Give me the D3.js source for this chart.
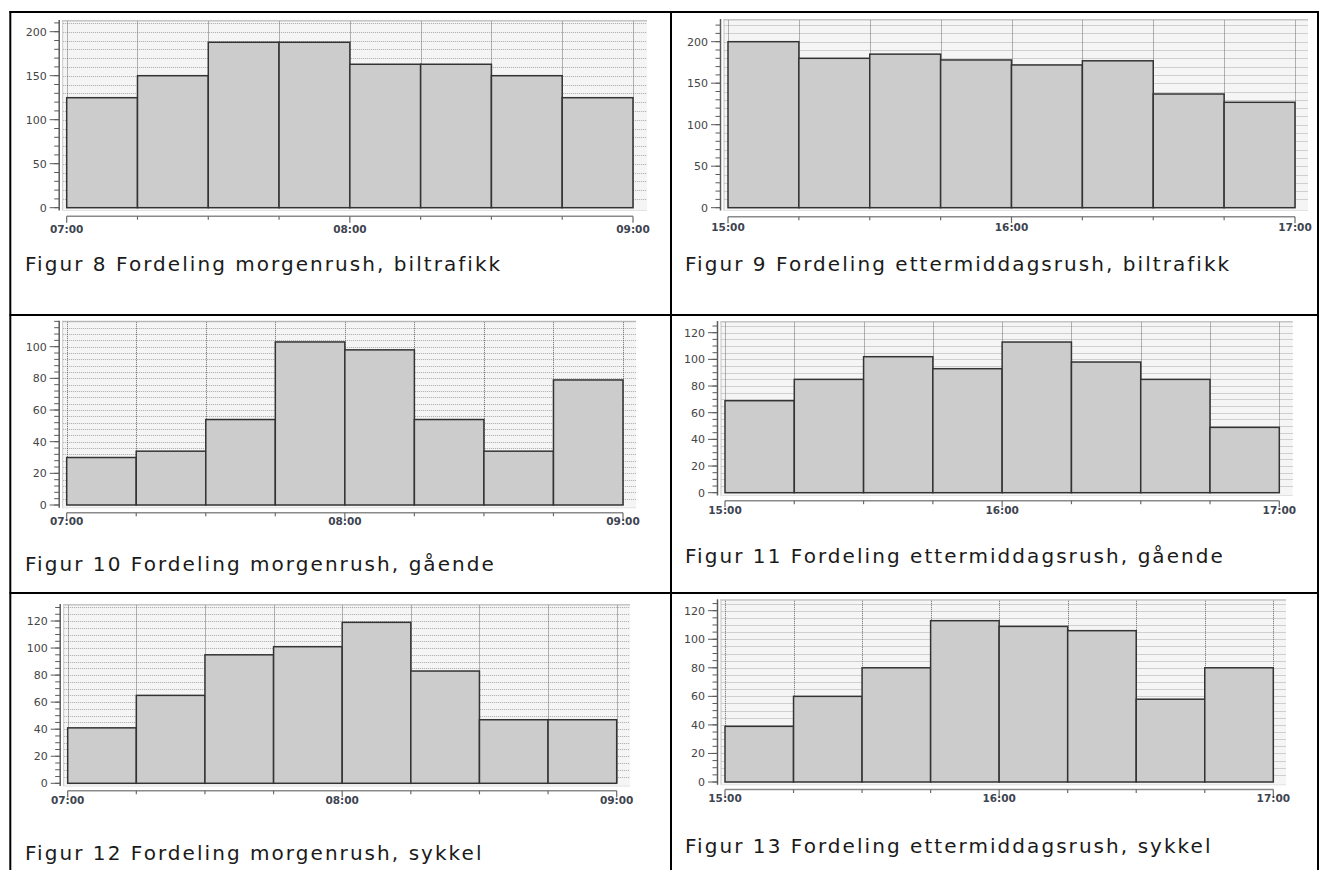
<!DOCTYPE html>
<html><head><meta charset="utf-8">
<script src="https://cdn.jsdelivr.net/npm/d3@7"></script>
<style>
html,body{margin:0;padding:0;background:#fff;}
svg{display:block;}
</style></head>
<body>
<svg id="chart" width="1320" height="870"></svg>
<script>
// ---------- DATA ----------
const morningBins = ["07:00","07:15","07:30","07:45","08:00","08:15","08:30","08:45"];
const afternoonBins = ["15:00","15:15","15:30","15:45","16:00","16:15","16:30","16:45"];
const morningTickLabels = ["07:00","08:00","09:00"];
const afternoonTickLabels = ["15:00","16:00","17:00"];

const fig8Values  = [125,150,188,188,163,163,150,125];
const fig9Values  = [200,180,185,178,172,177,137,127];
const fig10Values = [30,34,54,103,98,54,34,79];
const fig11Values = [69,85,102,93,113,98,85,49];
const fig12Values = [41,65,95,101,119,83,47,47];
const fig13Values = [39,60,80,113,109,106,58,80];

const yTicks200 = [0,50,100,150,200];
const yTicks100 = [0,20,40,60,80,100];
const yTicks120 = [0,20,40,60,80,100,120];

const captions = [
  "Figur 8 Fordeling morgenrush, biltrafikk",
  "Figur 9 Fordeling ettermiddagsrush, biltrafikk",
  "Figur 10 Fordeling morgenrush, gående",
  "Figur 11 Fordeling ettermiddagsrush, gående",
  "Figur 12 Fordeling morgenrush, sykkel",
  "Figur 13 Fordeling ettermiddagsrush, sykkel"
];

// ---------- LAYOUT ----------
const parse = d3.timeParse("%H:%M");
const panels = [
  {values:fig8Values, bins:morningBins, end:"09:00", hours:morningTickLabels, yTicks:yTicks200, minor:10, caption:captions[0],
   x0:66.7, x1:633, y0:207.7, yTopPix:31.7, frameTop:20, frameRight:647, axisGap:8.5, labelGap:13, capX:25, capY:271},
  {values:fig9Values, bins:afternoonBins, end:"17:00", hours:afternoonTickLabels, yTicks:yTicks200, minor:10, caption:captions[1],
   x0:728, x1:1295, y0:207.7, yTopPix:41.7, frameTop:19, frameRight:1308, axisGap:9, labelGap:11, capX:685, capY:271},
  {values:fig10Values, bins:morningBins, end:"09:00", hours:morningTickLabels, yTicks:yTicks100, minor:4, caption:captions[2],
   x0:66.7, x1:623, y0:505, yTopPix:346.7, frameTop:320.7, frameRight:636, axisGap:7.7, labelGap:8.5, capX:25, capY:571},
  {values:fig11Values, bins:afternoonBins, end:"17:00", hours:afternoonTickLabels, yTicks:yTicks120, minor:5, caption:captions[3],
   x0:725, x1:1279.3, y0:492.7, yTopPix:332.7, frameTop:321, frameRight:1292.7, axisGap:8, labelGap:9.5, capX:685, capY:563},
  {values:fig12Values, bins:morningBins, end:"09:00", hours:morningTickLabels, yTicks:yTicks120, minor:5, caption:captions[4],
   x0:67.7, x1:616.7, y0:783.3, yTopPix:621, frameTop:604, frameRight:630, axisGap:7.5, labelGap:9.5, capX:25, capY:859.5},
  {values:fig13Values, bins:afternoonBins, end:"17:00", hours:afternoonTickLabels, yTicks:yTicks120, minor:5, caption:captions[5],
   x0:725, x1:1273.3, y0:782, yTopPix:610.7, frameTop:599.3, frameRight:1286, axisGap:7.5, labelGap:9, capX:685, capY:853}
];

const svg = d3.select("#chart");

// table borders
const border = svg.append("g").attr("stroke","#000").attr("stroke-width",2).attr("fill","none");
[[9.5,12,1319,12],[10.3,11,10.3,871],[671,11,671,871],[1318,11,1318,871],[9.5,315,1319,315],[9.5,593,1319,593]]
  .forEach(l=>border.append("line").attr("x1",l[0]).attr("y1",l[1]).attr("x2",l[2]).attr("y2",l[3]));

panels.forEach(p=>{
  const g = svg.append("g");
  const starts = p.bins.map(parse);
  const tEnd = parse(p.end);
  const x = d3.scaleTime().domain([starts[0], tEnd]).range([p.x0, p.x1]);
  const topTick = p.yTicks[p.yTicks.length-1];
  const y = d3.scaleLinear().domain([0, topTick]).range([p.y0, p.yTopPix]);
  const yMax = y.invert(p.frameTop);
  const frameLeft = p.x0 - 4.5;
  const axisX = p.x0 - 7.5;
  const frameBottom = p.y0 + 2.8;

  // frame
  g.append("rect").attr("x",frameLeft).attr("y",p.frameTop).attr("width",p.frameRight-frameLeft)
    .attr("height",frameBottom-p.frameTop).attr("fill","#f5f5f5");
  g.append("line").attr("x1",frameLeft).attr("x2",p.frameRight).attr("y1",p.frameTop+0.75).attr("y2",p.frameTop+0.75)
    .attr("stroke","#c4c4c4").attr("stroke-width",1.5);
  g.append("line").attr("x1",frameLeft+0.5).attr("x2",frameLeft+0.5).attr("y1",p.frameTop).attr("y2",frameBottom)
    .attr("stroke","#c8c8c8").attr("stroke-width",1);
  g.append("line").attr("x1",frameLeft).attr("x2",p.frameRight).attr("y1",frameBottom).attr("y2",frameBottom)
    .attr("stroke","#e2e2e2").attr("stroke-width",1);

  // horizontal gridlines
  const minorVals = d3.range(p.minor, yMax, p.minor);
  g.append("g").selectAll("line").data(minorVals).join("line")
    .attr("x1",frameLeft+1).attr("x2",p.frameRight)
    .attr("y1",d=>Math.round(y(d))+0.5).attr("y2",d=>Math.round(y(d))+0.5)
    .attr("stroke","#a8a8a8").attr("stroke-width",1).attr("stroke-dasharray","1,1");
  // vertical gridlines
  const edges = starts.concat([tEnd]);
  g.append("g").selectAll("line").data(edges).join("line")
    .attr("x1",d=>Math.round(x(d))+0.5).attr("x2",d=>Math.round(x(d))+0.5)
    .attr("y1",p.frameTop+1.5).attr("y2",p.y0)
    .attr("stroke","#6a6a6a").attr("stroke-width",1).attr("stroke-dasharray","1,1");

  // bars
  g.append("g").selectAll("rect").data(p.values).join("rect")
    .attr("x",(d,i)=>x(starts[i]))
    .attr("width",(d,i)=>x(i<starts.length-1?starts[i+1]:tEnd)-x(starts[i]))
    .attr("y",d=>y(d)).attr("height",d=>p.y0-y(d))
    .attr("fill","#cccccc").attr("stroke","#333333").attr("stroke-width",1.5);

  // y axis
  const ya = g.append("g").attr("transform",`translate(${axisX},0)`);
  ya.append("line").attr("x1",0).attr("x2",0).attr("y1",p.frameTop).attr("y2",frameBottom)
    .attr("stroke","#5a5a5a").attr("stroke-width",1.5);
  const allMinor = d3.range(0, yMax, p.minor);
  ya.selectAll("line.mn").data(allMinor).join("line").attr("class","mn")
    .attr("x1",-5).attr("x2",0).attr("y1",d=>y(d)).attr("y2",d=>y(d))
    .attr("stroke","#5a5a5a").attr("stroke-width",1);
  ya.selectAll("line.mj").data(p.yTicks).join("line").attr("class","mj")
    .attr("x1",-9.5).attr("x2",0).attr("y1",d=>y(d)).attr("y2",d=>y(d))
    .attr("stroke","#5a5a5a").attr("stroke-width",1);
  ya.selectAll("text").data(p.yTicks).join("text")
    .attr("x",-12.5).attr("y",d=>y(d)).attr("dy","0.36em").attr("text-anchor","end")
    .attr("font-family","DejaVu Sans, Verdana, sans-serif").attr("font-size",11)
    .attr("fill","#454545").text(d=>d);

  // x axis
  const axisY = p.y0 + p.axisGap;
  const xa = g.append("g").attr("transform",`translate(0,${axisY})`);
  xa.append("line").attr("x1",p.x0).attr("x2",p.x1).attr("y1",0).attr("y2",0)
    .attr("stroke","#8a8a8a").attr("stroke-width",1.5);
  const hourTimes = p.hours.map(parse);
  xa.selectAll("line.t").data(edges).join("line").attr("class","t")
    .attr("x1",d=>x(d)).attr("x2",d=>x(d)).attr("y1",0)
    .attr("y2",d=>hourTimes.some(h=>+h===+d)?6.5:3.5)
    .attr("stroke","#6a6a6a").attr("stroke-width",1.2);
  xa.selectAll("text").data(p.hours).join("text")
    .attr("x",d=>x(parse(d))).attr("y",p.labelGap).attr("dy","0.36em").attr("text-anchor","middle")
    .attr("font-family","DejaVu Sans, Verdana, sans-serif").attr("font-size",10.5).attr("font-weight","bold")
    .attr("fill","#3e4450").text(d=>d);

  // caption
  g.append("text").attr("x",p.capX).attr("y",p.capY)
    .attr("font-family","DejaVu Sans, Verdana, sans-serif").attr("font-size",20)
    .attr("letter-spacing","2.05px").attr("fill","#1a1a1a").text(p.caption);
});
</script>
</body></html>
